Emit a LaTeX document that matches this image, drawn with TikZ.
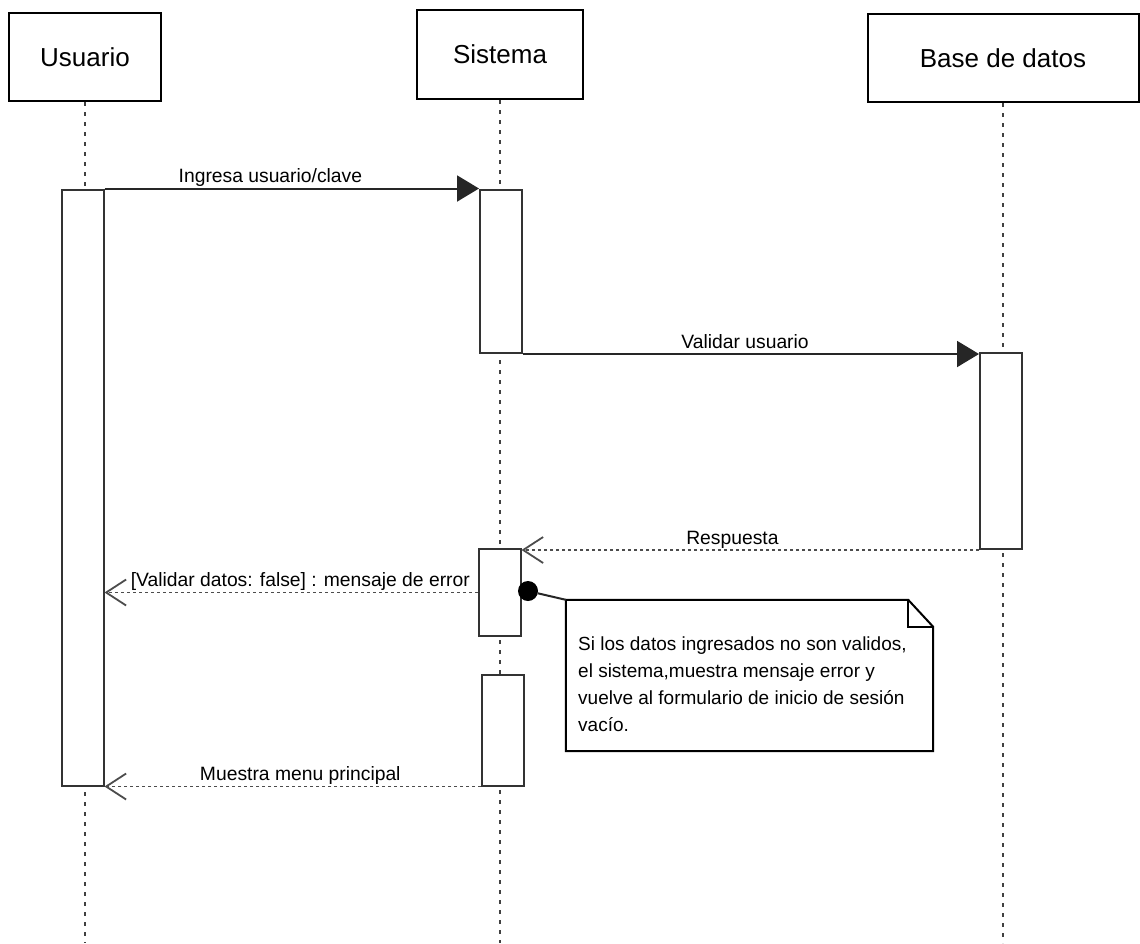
\documentclass[tikz,border=0pt]{standalone}
\usepackage{fontspec}
\setmainfont{Liberation Sans}
\usetikzlibrary{arrows.meta}

\tikzset{
  header/.style={draw, line width=2pt, rectangle, inner sep=0pt,
                 font=\fontsize{26}{30}\selectfont},
  lifeline/.style={draw=black!75, line width=1.6pt, dash pattern=on 4pt off 6pt},
  activation/.style={draw=black!80, line width=2pt, fill=white, rectangle,
                     minimum width=42pt, inner sep=0pt},
  callmsg/.style={draw=black!85, line width=2pt,
                  -{Triangle[length=22pt,width=26pt]}},
  replymsg/.style={draw=black!70, line width=1.8pt, dash pattern=on 3pt off 3pt,
                   -{Straight Barb[length=20pt,width=26pt,line width=1.8pt]}},
  msglabel/.style={font=\fontsize{19.3}{27}\selectfont, inner sep=1pt,
                   text height=14pt, text depth=4pt},
  notetext/.style={font=\fontsize{19}{27}\selectfont, inner sep=0pt, align=left},
}

\begin{document}
\begin{tikzpicture}[x=1pt, y=-1pt]
  \useasboundingbox (0,0) rectangle (1140,943);

  % participants
  \node[header, minimum width=152pt, minimum height=88pt] (usr) at (85,57) {Usuario};
  \node[header, minimum width=166pt, minimum height=89pt] (sys) at (500,54.5) {Sistema};
  \node[header, minimum width=271pt, minimum height=88pt] (db) at (1003,58) {Base de datos};

  % lifelines
  \coordinate (usrEnd) at (85,943);
  \coordinate (sysEnd) at (500,943);
  \coordinate (dbEnd) at (1003,943);
  \draw[lifeline] (usr.south) -- (usrEnd);
  \draw[lifeline] (sys.south) -- (sysEnd);
  \draw[lifeline] (db.south) -- (dbEnd);

  % activation bars
  \node[activation, minimum height=596pt] (uact) at (82.5,487.5) {};
  \node[activation, minimum height=163pt] (sact1) at (501,271.5) {};
  \node[activation, minimum height=196pt] (dbact) at (1001,451) {};
  \node[activation, minimum height=87pt] (sact2) at (499.5,592.5) {};
  \node[activation, minimum height=111pt] (sact3) at (503,730) {};

  % messages
  \draw[callmsg] (uact.north east) -- node[msglabel, above, pos=0.443] {Ingresa usuario/clave} (uact.north east -| sact1.west);
  \draw[callmsg] (sact1.south east) -- node[msglabel, above, pos=0.487] {Validar usuario} (sact1.south east -| dbact.west);
  \draw[replymsg] (dbact.south west) -- node[msglabel, above, pos=0.539] {Respuesta} (dbact.south west -| sact2.east);
  \draw[replymsg] (sact2.west) -- node[msglabel, above, pos=0.475] {[Validar datos: false] : mensaje de error} (sact2.west -| uact.east);
  \draw[replymsg] (sact3.south west) -- node[msglabel, above, pos=0.48] {Muestra menu principal} (sact3.south west -| uact.east);

  % note attached to the error reply
  \node[circle, fill=black, minimum size=20pt, inner sep=0pt] (dot) at (528,591) {};
  \node[rectangle, minimum width=367pt, minimum height=151pt, inner sep=0pt] (note) at (749.5,675.5) {};
  \draw[line width=2pt, fill=white]
    (note.north west) -- ([xshift=-25pt]note.north east) -- ([yshift=-27pt]note.north east)
    -- (note.south east) -- (note.south west) -- cycle;
  \draw[line width=2pt]
    ([xshift=-25pt]note.north east) -- ([xshift=-25pt,yshift=-27pt]note.north east)
    -- ([yshift=-27pt]note.north east);
  \draw[line width=2pt, draw=black!85] (dot) -- (note.north west);
  \node[notetext, anchor=west] (notebody) at (578,684)
    {Si los datos ingresados no son validos,\\
     el sistema,muestra mensaje error y\\
     vuelve al formulario de inicio de sesión\\
     vacío.};
\end{tikzpicture}
\end{document}
